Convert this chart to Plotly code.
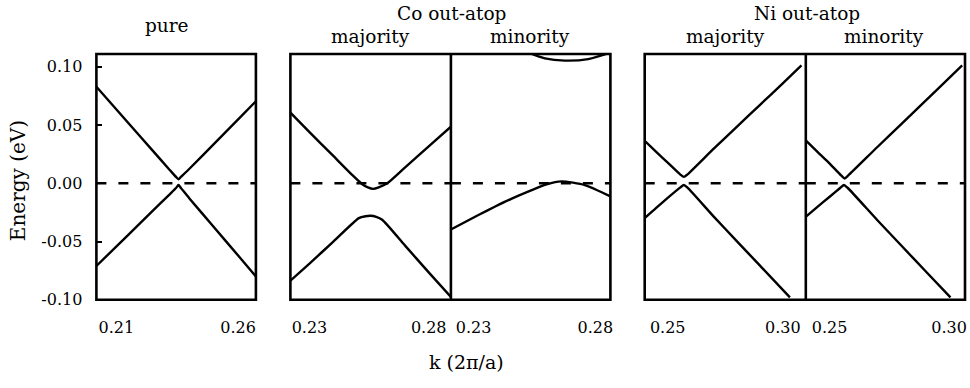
import plotly.graph_objects as go

# ---------------- data ----------------
# pure
pure_k_up = [0.2018, 0.215, 0.225, 0.232, 0.2345, 0.2355, 0.2365, 0.240, 0.250, 0.260, 0.2673]
pure_e_up = [0.083, 0.0516, 0.0279, 0.0113, 0.0055, 0.0035, 0.0055, 0.0125, 0.0337, 0.0549, 0.0705]
pure_k_dn = [0.2018, 0.215, 0.225, 0.232, 0.2345, 0.2355, 0.2365, 0.240, 0.250, 0.260, 0.2673]
pure_e_dn = [-0.071, -0.044, -0.0235, -0.0092, -0.004, -0.0015, -0.004, -0.013, -0.0375, -0.062, -0.080]

# Co out-atop majority
co_maj_k_up = [0.222, 0.230, 0.240, 0.248, 0.252, 0.2545, 0.2567, 0.259, 0.2626, 0.270, 0.280, 0.2893]
co_maj_e_up = [0.0607, 0.044, 0.0235, 0.007, -0.0005, -0.0035, -0.0048, -0.0035, 0.0, 0.0135, 0.0317, 0.0487]
co_maj_k_dn = [0.222, 0.230, 0.240, 0.2507, 0.2535, 0.2556, 0.258, 0.2605, 0.270, 0.280, 0.2893]
co_maj_e_dn = [-0.0836, -0.0689, -0.0501, -0.0299, -0.0283, -0.0279, -0.0288, -0.0313, -0.0533, -0.0765, -0.0976]

# Co out-atop minority
co_min_k_up = [0.2495, 0.2525, 0.2593, 0.2675, 0.2771, 0.2862]
co_min_e_up = [0.115, 0.1123, 0.1073, 0.1054, 0.1067, 0.1123]
co_min_k_dn = [0.2207, 0.2320, 0.2389, 0.2457, 0.2539, 0.2600, 0.2661, 0.2757, 0.2862]
co_min_e_dn = [-0.0396, -0.0272, -0.0199, -0.0131, -0.0058, -0.0008, 0.0017, -0.0015, -0.0112]

# Ni out-atop majority
ni_maj_k_up = [0.240, 0.245, 0.250, 0.2555, 0.257, 0.2585, 0.270, 0.280, 0.290, 0.300, 0.3081]
ni_maj_e_up = [0.0365, 0.027, 0.0178, 0.0075, 0.0055, 0.0075, 0.0298, 0.0485, 0.0672, 0.0859, 0.1012]
ni_maj_k_dn = [0.240, 0.245, 0.250, 0.2555, 0.257, 0.2585, 0.270, 0.280, 0.290, 0.3031]
ni_maj_e_dn = [-0.0298, -0.021, -0.0125, -0.0035, -0.0014, -0.0035, -0.0286, -0.0496, -0.0705, -0.098]

# Ni out-atop minority
ni_min_k_up = [0.2402, 0.245, 0.250, 0.2548, 0.2563, 0.2578, 0.270, 0.280, 0.290, 0.300, 0.3055]
ni_min_e_up = [0.0365, 0.0268, 0.0170, 0.0068, 0.0042, 0.0068, 0.0312, 0.0509, 0.0706, 0.0903, 0.1012]
ni_min_k_dn = [0.2402, 0.245, 0.250, 0.2545, 0.256, 0.2575, 0.270, 0.280, 0.290, 0.3006]
ni_min_e_dn = [-0.0284, -0.020, -0.0115, -0.0038, -0.0014, -0.0038, -0.0317, -0.0534, -0.0751, -0.098]

# axis ranges and ticks
x_ranges = [[0.2018, 0.2673], [0.222, 0.2893], [0.2207, 0.2862], [0.240, 0.310], [0.240, 0.3067]]
x_tickvals = [[0.21, 0.26], [0.23, 0.28], [0.23, 0.28], [0.25, 0.30], [0.25, 0.30]]
x_ticktext = [["0.21", "0.26"], ["0.23", "0.28"], ["0.23", "0.28"], ["0.25", "0.30"], ["0.25", "0.30"]]
y_range = [-0.10, 0.111]
y_tickvals = [-0.10, -0.05, 0.0, 0.05, 0.10]
y_ticktext = ["-0.10", "-0.05", "0.00", "0.05", "0.10"]

panel_titles = ["majority", "minority", "majority", "minority"]
group_titles = ["Co out-atop", "Ni out-atop"]

# ---------------- layout ----------------
W, H = 970, 388
x_px = [(96.7, 256.7), (291.3, 452.3), (452.3, 612.3), (646.7, 808.3), (808.3, 968.0)]
y_px = (55.5, 307.7)
FONT = "DejaVu Serif, Liberation Serif, Times New Roman, serif"

panels = [
    (pure_k_up, pure_e_up, pure_k_dn, pure_e_dn),
    (co_maj_k_up, co_maj_e_up, co_maj_k_dn, co_maj_e_dn),
    (co_min_k_up, co_min_e_up, co_min_k_dn, co_min_e_dn),
    (ni_maj_k_up, ni_maj_e_up, ni_maj_k_dn, ni_maj_e_dn),
    (ni_min_k_up, ni_min_e_up, ni_min_k_dn, ni_min_e_dn),
]

fig = go.Figure()
line = dict(color="black", width=2.4)
for i, (ku, eu, kd, ed) in enumerate(panels):
    xa = "x" if i == 0 else f"x{i+1}"
    ya = "y" if i == 0 else f"y{i+1}"
    fig.add_trace(go.Scatter(x=ku, y=eu, mode="lines", line=line, xaxis=xa, yaxis=ya,
                             line_shape="spline", line_smoothing=0.6,
                             showlegend=False, hoverinfo="skip"))
    fig.add_trace(go.Scatter(x=kd, y=ed, mode="lines", line=line, xaxis=xa, yaxis=ya,
                             line_shape="spline", line_smoothing=0.6,
                             showlegend=False, hoverinfo="skip"))
    fig.add_trace(go.Scatter(x=x_ranges[i], y=[0, 0], mode="lines",
                             line=dict(color="black", width=2.5, dash="10px,12px"),
                             xaxis=xa, yaxis=ya, showlegend=False, hoverinfo="skip"))

layout = dict(width=W, height=H, margin=dict(l=0, r=0, t=0, b=0),
              paper_bgcolor="white", plot_bgcolor="white",
              font=dict(family=FONT, color="black"))
for i in range(5):
    xk = "xaxis" if i == 0 else f"xaxis{i+1}"
    yk = "yaxis" if i == 0 else f"yaxis{i+1}"
    anchor_y = "y" if i == 0 else f"y{i+1}"
    anchor_x = "x" if i == 0 else f"x{i+1}"
    layout[xk] = dict(domain=[x_px[i][0] / W, x_px[i][1] / W], range=x_ranges[i],
                      anchor=anchor_y, showgrid=False, zeroline=False, showline=False,
                      tickvals=x_tickvals[i], ticktext=x_ticktext[i],
                      ticks="outside", ticklen=13, tickcolor="rgba(0,0,0,0)",
                      tickfont=dict(size=16, family=FONT))
    layout[yk] = dict(domain=[1 - y_px[1] / H, 1 - y_px[0] / H], range=y_range,
                      anchor=anchor_x, showgrid=False, zeroline=False, showline=False)
    if i == 0:
        layout[yk].update(tickvals=y_tickvals, ticktext=y_ticktext, ticks="inside",
                          ticklen=6, tickwidth=2, tickcolor="black",
                          ticklabelstandoff=13,
                          tickfont=dict(size=16, family=FONT))
    else:
        layout[yk].update(showticklabels=False, ticks="")
fig.update_layout(**layout)

# frames drawn as shapes (paper coords) so shared borders are single lines
frame = dict(color="black", width=2.6)
y0p, y1p = 1 - y_px[1] / H, 1 - y_px[0] / H
for (a, b) in [(x_px[0][0], x_px[0][1]), (x_px[1][0], x_px[2][1]), (x_px[3][0], x_px[4][1])]:
    fig.add_shape(type="rect", xref="paper", yref="paper", x0=a / W, x1=b / W,
                  y0=y0p, y1=y1p, line=frame, layer="above")
for xd in (x_px[1][1], x_px[3][1]):
    fig.add_shape(type="line", xref="paper", yref="paper", x0=xd / W, x1=xd / W,
                  y0=y0p, y1=y1p, line=frame, layer="above")

def ann(text, x, y, size=18.5, angle=0):
    fig.add_annotation(text=text, x=x / W, y=1 - y / H, xref="paper", yref="paper",
                       xanchor="center", yanchor="middle", showarrow=False,
                       textangle=angle, font=dict(size=size, family=FONT, color="black"))

ann("pure", 168, 26)
ann(group_titles[0], 453, 14)
ann(group_titles[1], 810, 14)
ann(panel_titles[0], 372, 37)
ann(panel_titles[1], 532, 37)
ann(panel_titles[2], 728, 37)
ann(panel_titles[3], 887, 37)
ann("Energy (eV)", 18, 185, size=20, angle=-90)
ann("k (2π/a)", 468, 372, size=19)

fig.write_html("out.html")
